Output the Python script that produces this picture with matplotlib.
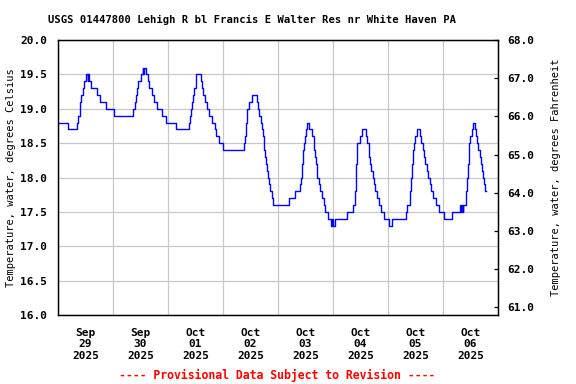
import matplotlib
matplotlib.use("Agg")
import matplotlib.pyplot as plt
import matplotlib.dates as mdates
import matplotlib.ticker as mticker
import pandas as pd

# hours since 2025-09-29 00:00 at which the reading changes, and the reading (deg C)
hours = [
    0.0, 4.2, 8.1, 8.9, 9.4, 9.8, 10.2, 10.7, 11.3, 12.2, 12.9, 13.1, 13.5, 14.5,
    17.0, 18.3, 21.1, 24.4, 32.8, 33.5, 34.0, 34.4, 35.1, 36.1, 36.9, 37.3, 37.6,
    38.6, 39.2, 39.8, 40.9, 41.8, 43.0, 45.4, 47.0, 51.3, 57.2, 57.5, 58.2, 58.5,
    58.8, 59.3, 60.0, 60.4, 62.6, 63.0, 63.3, 64.3, 65.2, 65.7, 67.2, 68.4, 68.8,
    70.2, 72.0, 81.1, 81.6, 81.9, 82.1, 82.3, 82.6, 83.4, 84.6, 86.8, 87.3, 87.9,
    88.4, 88.8, 89.3, 89.7, 90.0, 90.3, 90.7, 91.1, 91.6, 92.0, 92.4, 93.2, 93.9,
    100.7, 103.6, 105.8, 106.1, 106.3, 106.5, 106.7, 106.9, 107.2, 107.6, 108.0,
    108.5, 109.7, 110.9, 111.5, 111.9, 112.3, 112.7, 112.9, 113.2, 114.1, 114.5,
    115.1, 115.9, 116.6, 117.7, 119.2, 119.7, 120.2, 121.0, 126.1, 128.6, 129.7,
    129.8, 129.9, 130.0, 130.1, 130.2, 130.3, 130.4, 130.5, 131.6, 132.5, 134.4,
    135.0, 135.5, 135.9, 136.2, 136.6, 137.3, 137.9, 138.5, 139.3, 140.2, 140.9,
    142.1, 144.6, 145.6, 151.8, 152.5, 153.6, 153.8, 154.0, 154.2, 154.4, 154.6,
    154.8, 155.0, 155.2, 155.8, 156.5, 157.9, 158.2, 159.4, 159.8, 160.2, 160.8,
    161.5, 162.3, 162.7, 163.8, 164.9, 166.3, 168.5, 171.9, 175.5, 175.9, 176.3,
    176.6, 176.8, 178.0, 178.2, 178.4, 178.6, 178.8, 179.0, 179.2, 179.4, 179.5,
    179.8, 180.8, 181.0, 182.0, 182.6, 182.9, 183.1, 184.0, 184.5, 184.9, 185.3,
    185.9, 186.5, 186.7,
]
temp_c = [
    18.8, 18.7, 18.8, 18.9, 19.0, 19.1, 19.2, 19.3, 19.4, 19.5, 19.4, 19.5, 19.4, 19.3,
    19.2, 19.1, 19.0, 18.9, 19.0, 19.1, 19.2, 19.3, 19.4, 19.5, 19.6, 19.5, 19.6,
    19.5, 19.4, 19.3, 19.2, 19.1, 19.0, 18.9, 18.8, 18.7, 18.8, 18.9, 19.0, 19.1,
    19.2, 19.3, 19.4, 19.5, 19.4, 19.3, 19.2, 19.1, 19.0, 18.9, 18.8, 18.7, 18.6,
    18.5, 18.4, 18.5, 18.6, 18.7, 18.8, 18.9, 19.0, 19.1, 19.2, 19.1, 19.0, 18.9,
    18.8, 18.7, 18.6, 18.5, 18.4, 18.3, 18.2, 18.1, 18.0, 17.9, 17.8, 17.7, 17.6,
    17.7, 17.8, 17.9, 18.0, 18.1, 18.2, 18.3, 18.4, 18.5, 18.6, 18.7,
    18.8, 18.7, 18.6, 18.5, 18.4, 18.3, 18.2, 18.1, 18.0, 17.9, 17.8,
    17.7, 17.6, 17.5, 17.4, 17.3, 17.4, 17.3, 17.4, 17.5, 17.6, 17.7,
    17.8, 17.9, 18.0, 18.1, 18.2, 18.3, 18.4, 18.5, 18.6, 18.7, 18.6,
    18.5, 18.4, 18.3, 18.2, 18.1, 18.0, 17.9, 17.8, 17.7, 17.6, 17.5,
    17.4, 17.3, 17.4, 17.5, 17.6, 17.7, 17.8, 17.9, 18.0, 18.1, 18.2,
    18.3, 18.4, 18.5, 18.6, 18.7, 18.6, 18.5, 18.4, 18.3, 18.2, 18.1,
    18.0, 17.9, 17.8, 17.7, 17.6, 17.5, 17.4, 17.5, 17.6, 17.5, 17.6,
    17.5, 17.6, 17.7, 17.8, 17.9, 18.0, 18.1, 18.2, 18.3, 18.4, 18.5,
    18.6, 18.7, 18.8, 18.7, 18.6, 18.5, 18.4, 18.3, 18.2, 18.1, 18.0,
    17.9, 17.8, 17.8,
]
f_ticks = [61, 62, 63, 64, 65, 66, 67, 68]

START = pd.Timestamp("2025-09-29 00:00")
END = pd.Timestamp("2025-10-07 00:00")

plt.rcParams["font.family"] = "DejaVu Sans Mono"
plt.rcParams["font.weight"] = "bold"

fig = plt.figure(figsize=(5.76, 3.84), dpi=100)
ax = fig.add_axes([58 / 576, 1 - 315 / 384, 440 / 576, 275 / 384])

times = START + pd.to_timedelta(hours, unit="h")
ax.step(times, temp_c, where="post", color="#0000ff", lw=1.0)

ax.set_xlim(START, END)
ax.set_ylim(16.0, 20.0)
ax.yaxis.set_major_locator(mticker.MultipleLocator(0.5))
ax.yaxis.set_major_formatter(mticker.FormatStrFormatter("%.1f"))
ax.xaxis.set_major_locator(mdates.DayLocator())
ax.xaxis.set_major_formatter(mticker.NullFormatter())
ax.xaxis.set_minor_locator(mdates.HourLocator(byhour=12))
ax.xaxis.set_minor_formatter(mdates.DateFormatter("%b\n%d\n%Y"))
ax.tick_params(axis="x", which="both", length=0, labelsize=8, pad=9)
ax.tick_params(axis="y", length=0, labelsize=8, pad=8)
ax.grid(True, which="major", color="#c8c8c8", lw=0.9)
ax.set_axisbelow(True)
ax.set_ylabel("Temperature, water, degrees Celsius", fontsize=7.5, labelpad=3)
for s in ax.spines.values():
    s.set_linewidth(0.9)

ax2 = ax.twinx()
ax2.set_ylim(16.0 * 9 / 5 + 32, 20.0 * 9 / 5 + 32)
ax2.set_yticks(f_ticks)
ax2.yaxis.set_major_formatter(mticker.FormatStrFormatter("%.1f"))
ax2.tick_params(axis="y", direction="in", length=3, width=0.9, labelsize=8, pad=7)
ax2.set_ylabel("Temperature, water, degrees Fahrenheit", fontsize=7.5, labelpad=12)
for s in ax2.spines.values():
    s.set_linewidth(0.9)

fig.text(252 / 576, 1 - 20 / 384,
         "USGS 01447800 Lehigh R bl Francis E Walter Res nr White Haven PA",
         ha="center", va="center", fontsize=7.6)
fig.text(277 / 576, 1 - 375 / 384,
         "---- Provisional Data Subject to Revision ----",
         ha="center", va="center", fontsize=8.3, color="#ff0000")

fig.savefig("out.png", dpi=100)
